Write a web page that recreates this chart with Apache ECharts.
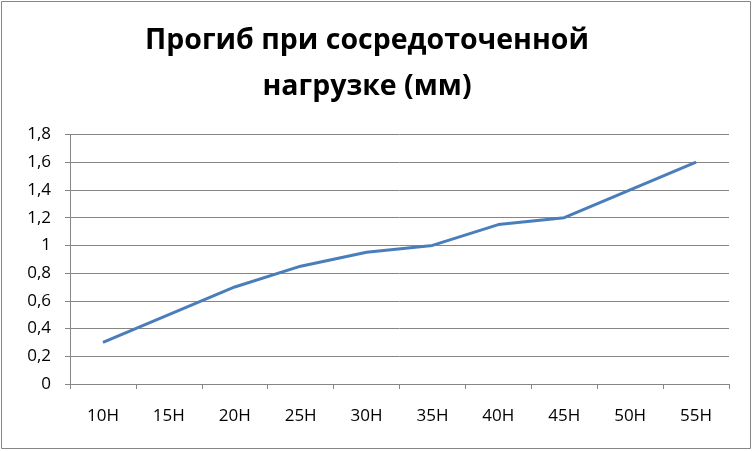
<!DOCTYPE html>
<html><head><meta charset="utf-8">
<script src="https://cdn.jsdelivr.net/npm/echarts@6/dist/echarts.min.js"></script>
<style>html,body{margin:0;padding:0;background:#fff}#c{width:753px;height:451px}</style>
</head><body><div id="c"></div>
<script>
const categories = ['10Н','15Н','20Н','25Н','30Н','35Н','40Н','45Н','50Н','55Н'];
const deflection = [0.3, 0.5, 0.7, 0.85, 0.95, 1.0, 1.15, 1.2, 1.4, 1.6];
const titleText = 'Прогиб при сосредоточенной\nнагрузке (мм)';

const chart = echarts.init(document.getElementById('c'), null, {renderer:'canvas'});
chart.setOption({
  animation:false,
  backgroundColor:'#fff',
  graphic:[{type:'rect',shape:{x:1.5,y:1.5,width:749,height:447},style:{fill:'none',stroke:'#868686',lineWidth:1}}],
  title:{text:titleText,left:362,textAlign:'center',top:13,
    textStyle:{fontFamily:'Open Sans',fontWeight:'bold',fontSize:28.5,color:'#000',lineHeight:46}},
  grid:{left:70,right:24,top:134.5,bottom:67},
  xAxis:{type:'category',data:categories,boundaryGap:true,
    axisLine:{lineStyle:{color:'#868686'}},
    axisTick:{show:true,alignWithLabel:false,length:5,lineStyle:{color:'#868686'}},
    axisLabel:{margin:24,fontFamily:'Open Sans',fontSize:17,color:'#000'},
    splitLine:{show:false}},
  yAxis:{type:'value',min:0,max:1.8,interval:0.2,
    axisLine:{show:true,lineStyle:{color:'#868686'}},
    axisTick:{show:true,length:5,lineStyle:{color:'#868686'}},
    axisLabel:{margin:19,fontFamily:'Open Sans',fontSize:17,color:'#000',
      formatter:v=>String(Math.round(v*10)/10).replace('.',',')},
    splitLine:{show:true,lineStyle:{color:'#868686'}}},
  series:[{type:'line',data:deflection,showSymbol:false,symbol:'none',
    lineStyle:{color:'#4A7EBB',width:3},itemStyle:{color:'#4A7EBB'}}]
});
</script></body></html>
